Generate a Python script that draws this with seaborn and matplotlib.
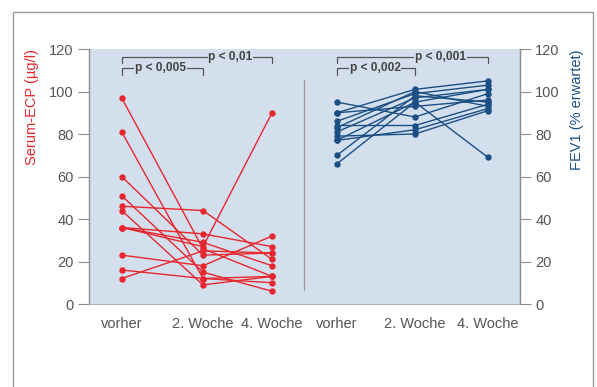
import numpy as np
import pandas as pd
import matplotlib
matplotlib.use("Agg")
import matplotlib.pyplot as plt
import seaborn as sns
from matplotlib.patches import Rectangle

# ---------------- data ----------------
timepoints = ["vorher", "2. Woche", "4. Woche"]

ecp_vorher = [97, 81, 60, 51, 46, 44, 36, 36, 36, 23, 16, 12]
ecp_woche2 = [26, 12, 23, 15, 44, 9, 33, 27, 29, 18, 12, 25]
ecp_woche4 = [13, 10, 24, 6, 21, 13, 27, 90, 18, 32, 13, 24]

fev_vorher = [95, 90, 90, 86, 84, 81, 79, 77, 77, 70, 66, 83]
fev_woche2 = [88, 101, 93, 99, 84, 97, 80, 82, 95, 98, 95, 100]
fev_woche4 = [99, 105, 96, 103, 94, 101, 91, 92, 101, 95, 69, 93]

yticks = [0, 20, 40, 60, 80, 100, 120]
ecp_label = "Serum-ECP (µg/l)"
fev_label = "FEV1 (% erwartet)"
p_ecp = ["p < 0,005", "p < 0,01"]
p_fev = ["p < 0,002", "p < 0,001"]

RED = "#e8262d"
BLUE = "#1b4f84"
BG = "#d4dfee"
GREY = "#8c8c8c"
TXT = "#555555"

# category positions (layout, in axis units)
pos_left = [32.7, 114, 183]
pos_right = [248, 326, 399]
divider_x = 215


def long_df(v0, v1, v2, pos):
    rows = []
    for i, vals in enumerate(zip(v0, v1, v2)):
        for t, v in enumerate(vals):
            rows.append({"patient": i, "x": pos[t], "value": v})
    return pd.DataFrame(rows)


df_ecp = long_df(ecp_vorher, ecp_woche2, ecp_woche4, pos_left)
df_fev = long_df(fev_vorher, fev_woche2, fev_woche4, pos_right)

sns.set_theme(style="white")
plt.rcParams["font.family"] = ["Liberation Sans", "DejaVu Sans"]

W, H = 597, 387
fig = plt.figure(figsize=(W / 100, H / 100), dpi=100)
ax = fig.add_axes([89 / W, 1 - 304 / H, 431 / W, 255 / H])
ax.set_facecolor(BG)
ax2 = ax.twinx()

sns.lineplot(data=df_ecp, x="x", y="value", units="patient", estimator=None,
             color=RED, marker="o", markersize=4.6, markeredgewidth=0,
             linewidth=1.0, sort=False, legend=False, ax=ax)
sns.lineplot(data=df_fev, x="x", y="value", units="patient", estimator=None,
             color=BLUE, marker="o", markersize=4.6, markeredgewidth=0,
             linewidth=1.0, sort=False, legend=False, ax=ax2)

for a in (ax, ax2):
    a.set_xlim(0, 431)
    a.set_ylim(0, 120)
    a.set_yticks(yticks)
    a.set_xlabel("")

ax.set_xticks(pos_left + pos_right)
ax.set_xticklabels(timepoints + timepoints)
ax.tick_params(axis="x", length=0, pad=9, labelsize=10.5, labelcolor=TXT)
ax.tick_params(axis="y", direction="out", length=8, width=0.8, color=GREY,
               labelcolor=TXT, labelsize=10.5, pad=3, left=True)
ax2.tick_params(axis="y", direction="out", length=8, width=0.8, color=GREY,
                labelcolor=TXT, labelsize=10.5, pad=3, right=True)

for s in ["top", "right"]:
    ax.spines[s].set_visible(False)
ax.spines["left"].set_color(GREY)
ax.spines["left"].set_linewidth(1)
ax.spines["bottom"].set_color("#b0b0b0")
ax.spines["bottom"].set_linewidth(0.8)
for s in ["top", "left", "bottom"]:
    ax2.spines[s].set_visible(False)
ax2.spines["right"].set_color(GREY)
ax2.spines["right"].set_linewidth(1)

ax.set_ylabel(ecp_label, color=RED, loc="top", fontsize=10.5, labelpad=7)
ax2.set_ylabel(fev_label, color=BLUE, loc="top", fontsize=10.5, labelpad=7)

# divider line
ax.plot([divider_x, divider_x], [6.6, 105.4], color="#9a9a9a", lw=1)


def bracket(x0, x1, y, drop, label, xt):
    ax2.plot([x0, x0, x1, x1], [y - drop, y, y, y - drop], color="#555555",
             lw=0.9, solid_joinstyle="miter", zorder=3)
    ax2.text(xt, y, label, ha="center", va="center",
             fontsize=8.6, fontweight="bold", color="#444444", zorder=4,
             bbox=dict(facecolor=BG, edgecolor="none", pad=0.4))


bracket(pos_left[0], pos_left[1], 110.9, 3.0, p_ecp[0], 71.5)
bracket(pos_left[0], pos_left[2], 116.4, 3.0, p_ecp[1], 141.5)
bracket(pos_right[0], pos_right[1], 110.9, 3.0, p_fev[0], 286)
bracket(pos_right[0], pos_right[2], 116.4, 3.0, p_fev[1], 351.5)

# outer frame
fig.add_artist(Rectangle((13 / W, -0.1), (592.5 - 13) / W, 1 - 11.5 / H + 0.1,
                         transform=fig.transFigure, fill=False,
                         edgecolor="#9a9a9a", lw=1))

fig.savefig("out.png", dpi=100)
